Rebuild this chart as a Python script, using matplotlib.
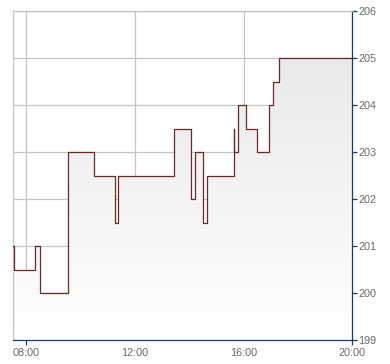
import numpy as np
import matplotlib
matplotlib.use("Agg")
import matplotlib.pyplot as plt
from matplotlib.colors import LinearSegmentedColormap

# minutes since midnight, step values (post)
minutos = [451, 453, 500, 511, 571, 630, 676, 682, 805, 843, 852, 871, 880,
           938, 939, 948, 966, 990, 1017, 1024, 1038, 1200]
precio = [201, 200.5, 201, 200, 203, 202.5, 201.5, 202.5, 203.5, 202, 203, 201.5,
          202.5, 203.5, 203, 204, 203.5, 203, 204, 204.5, 205, 205]

xticks = [480, 720, 960, 1200]
xlabels = ["08:00", "12:00", "16:00", "20:00"]
yticks = [199, 200, 201, 202, 203, 204, 205, 206]

plt.rcParams['font.family'] = ['Liberation Sans', 'DejaVu Sans']

fig = plt.figure(figsize=(3.9, 3.64), dpi=100)
ax = fig.add_axes([13.3 / 390, 24 / 364, (352.3 - 13.3) / 390, (340 - 11.3) / 364])

x0, x1 = minutos[0], 1200
y0, y1 = 199, 206

# step polygon for the fill
xs = []
ys = []
for i in range(len(minutos) - 1):
    xs += [minutos[i], minutos[i + 1]]
    ys += [precio[i], precio[i]]
poly = ax.fill_between(xs, ys, y0, color='none', lw=0)

cmap = LinearSegmentedColormap.from_list('g', ['#ffffff', '#e6e6e6'])
grad = np.linspace(0, 1, 256).reshape(-1, 1)
img = ax.imshow(grad, extent=[x0, x1, y0, y1], origin='lower', aspect='auto',
                cmap=cmap, zorder=1)
img.set_clip_path(poly.get_paths()[0], transform=ax.transData)

ax.plot(xs, ys, color='#6b2828', lw=0.9, zorder=3)

ax.set_xlim(x0, x1)
ax.set_ylim(y0, y1)

ax.set_xticks(xticks)
ax.set_xticklabels(xlabels)
ax.set_yticks(yticks)
ax.yaxis.tick_right()

ax.grid(True, color='#c4c4c4', lw=0.9, zorder=0)
ax.set_axisbelow(True)

for s in ['left', 'top']:
    ax.spines[s].set_color('#c4c4c4')
    ax.spines[s].set_linewidth(0.9)
for s in ['bottom', 'right']:
    ax.spines[s].set_color('#1d3a66')
    ax.spines[s].set_linewidth(0.9)

ax.tick_params(axis='both', colors='#1d3a66', labelcolor='#6a6a6a',
               labelsize=7.8, length=3.5, width=0.9)
ax.tick_params(axis='x', pad=2)
ax.tick_params(axis='y', pad=1)

# only first and last x ticks show a mark
for t in ax.xaxis.get_major_ticks()[1:3]:
    t.tick1line.set_visible(False)

fig.savefig("out.png", dpi=100)
